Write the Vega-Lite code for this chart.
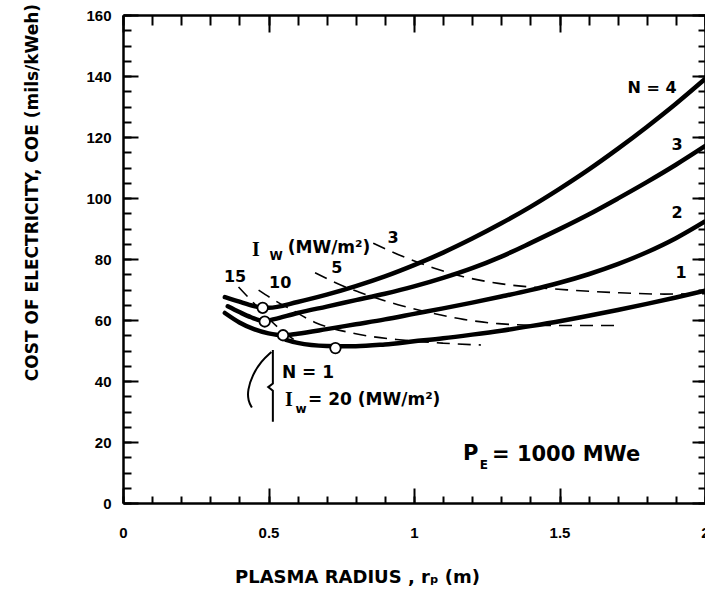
{
  "$schema": "https://vega.github.io/schema/vega-lite/v6.json",
  "autosize": {"type": "none"},
  "width": 582,
  "height": 488,
  "padding": {"left": 123, "top": 15, "right": 0, "bottom": 90},
  "background": "white",
  "config": {
    "view": {"stroke": null},
    "axis": {
      "grid": false,
      "domainColor": "black",
      "domainWidth": 2.5,
      "tickColor": "black",
      "tickWidth": 2,
      "labelColor": "black",
      "labelFont": "Liberation Sans",
      "labelFontWeight": "bold",
      "labelFontSize": 15,
      "titleColor": "black",
      "titleFont": "DejaVu Sans",
      "titleFontWeight": "bold",
      "titleFontSize": 17
    }
  },
  "datasets": {
    "curves": [
      {"N": 4, "x": 0.35, "coe": 67.5}, {"N": 4, "x": 0.40, "coe": 66.0}, {"N": 4, "x": 0.45, "coe": 64.6}, {"N": 4, "x": 0.48, "coe": 64.0},
      {"N": 4, "x": 0.5, "coe": 64.0}, {"N": 4, "x": 0.6, "coe": 65.9}, {"N": 4, "x": 0.7, "coe": 68.3}, {"N": 4, "x": 0.8, "coe": 71.1},
      {"N": 4, "x": 0.9, "coe": 74.3}, {"N": 4, "x": 1.0, "coe": 78.0}, {"N": 4, "x": 1.1, "coe": 82.1}, {"N": 4, "x": 1.2, "coe": 86.7},
      {"N": 4, "x": 1.3, "coe": 91.7}, {"N": 4, "x": 1.4, "coe": 97.1}, {"N": 4, "x": 1.5, "coe": 103.0}, {"N": 4, "x": 1.6, "coe": 109.3},
      {"N": 4, "x": 1.7, "coe": 116.1}, {"N": 4, "x": 1.8, "coe": 123.3}, {"N": 4, "x": 1.9, "coe": 130.9}, {"N": 4, "x": 2.0, "coe": 139.0},
      {"N": 3, "x": 0.36, "coe": 64.5}, {"N": 3, "x": 0.40, "coe": 62.6}, {"N": 3, "x": 0.44, "coe": 60.9}, {"N": 3, "x": 0.487, "coe": 59.6},
      {"N": 3, "x": 0.52, "coe": 60.3}, {"N": 3, "x": 0.6, "coe": 62.3}, {"N": 3, "x": 0.7, "coe": 64.4}, {"N": 3, "x": 0.8, "coe": 66.5},
      {"N": 3, "x": 0.9, "coe": 68.6}, {"N": 3, "x": 1.0, "coe": 71.0}, {"N": 3, "x": 1.1, "coe": 73.8}, {"N": 3, "x": 1.2, "coe": 77.0},
      {"N": 3, "x": 1.3, "coe": 80.8}, {"N": 3, "x": 1.4, "coe": 85.2}, {"N": 3, "x": 1.5, "coe": 89.8}, {"N": 3, "x": 1.6, "coe": 94.6},
      {"N": 3, "x": 1.7, "coe": 99.8}, {"N": 3, "x": 1.8, "coe": 105.2}, {"N": 3, "x": 1.9, "coe": 110.9}, {"N": 3, "x": 2.0, "coe": 117.0},
      {"N": 2, "x": 0.35, "coe": 62.3}, {"N": 2, "x": 0.40, "coe": 59.2}, {"N": 2, "x": 0.45, "coe": 57.0}, {"N": 2, "x": 0.5, "coe": 55.6},
      {"N": 2, "x": 0.55, "coe": 55.0}, {"N": 2, "x": 0.6, "coe": 55.5}, {"N": 2, "x": 0.7, "coe": 57.0}, {"N": 2, "x": 0.8, "coe": 58.6},
      {"N": 2, "x": 0.9, "coe": 60.2}, {"N": 2, "x": 1.0, "coe": 62.0}, {"N": 2, "x": 1.1, "coe": 63.8}, {"N": 2, "x": 1.2, "coe": 65.7},
      {"N": 2, "x": 1.3, "coe": 67.7}, {"N": 2, "x": 1.4, "coe": 69.8}, {"N": 2, "x": 1.5, "coe": 72.2}, {"N": 2, "x": 1.6, "coe": 75.0},
      {"N": 2, "x": 1.7, "coe": 78.3}, {"N": 2, "x": 1.8, "coe": 82.2}, {"N": 2, "x": 1.9, "coe": 86.8}, {"N": 2, "x": 2.0, "coe": 92.3},
      {"N": 1, "x": 0.56, "coe": 53.5}, {"N": 1, "x": 0.6, "coe": 52.5}, {"N": 1, "x": 0.7, "coe": 51.5}, {"N": 1, "x": 0.8, "coe": 51.4},
      {"N": 1, "x": 0.9, "coe": 52.0}, {"N": 1, "x": 1.0, "coe": 53.0}, {"N": 1, "x": 1.1, "coe": 54.0}, {"N": 1, "x": 1.2, "coe": 55.2},
      {"N": 1, "x": 1.3, "coe": 56.5}, {"N": 1, "x": 1.4, "coe": 58.0}, {"N": 1, "x": 1.5, "coe": 59.6}, {"N": 1, "x": 1.6, "coe": 61.4},
      {"N": 1, "x": 1.7, "coe": 63.3}, {"N": 1, "x": 1.8, "coe": 65.3}, {"N": 1, "x": 1.9, "coe": 67.4}, {"N": 1, "x": 2.0, "coe": 69.6}
    ],
    "dashed": [
      {"Iw": 3, "x": 0.86, "coe": 85.2}, {"Iw": 3, "x": 0.945, "coe": 81.5}, {"Iw": 3, "x": 1.07, "coe": 77.0}, {"Iw": 3, "x": 1.17, "coe": 74.2},
      {"Iw": 3, "x": 1.29, "coe": 72.0}, {"Iw": 3, "x": 1.4, "coe": 70.8}, {"Iw": 3, "x": 1.54, "coe": 69.8}, {"Iw": 3, "x": 1.69, "coe": 69.0},
      {"Iw": 3, "x": 1.86, "coe": 68.5}, {"Iw": 3, "x": 2.0, "coe": 68.6},
      {"Iw": 5, "x": 0.66, "coe": 75.5}, {"Iw": 5, "x": 0.76, "coe": 71.0}, {"Iw": 5, "x": 0.81, "coe": 69.2}, {"Iw": 5, "x": 0.945, "coe": 65.0},
      {"Iw": 5, "x": 1.06, "coe": 62.3}, {"Iw": 5, "x": 1.17, "coe": 60.2}, {"Iw": 5, "x": 1.29, "coe": 58.8}, {"Iw": 5, "x": 1.46, "coe": 58.2},
      {"Iw": 5, "x": 1.7, "coe": 58.2},
      {"Iw": 10, "x": 0.466, "coe": 69.8}, {"Iw": 10, "x": 0.52, "coe": 66.5}, {"Iw": 10, "x": 0.58, "coe": 63.3}, {"Iw": 10, "x": 0.66, "coe": 59.2},
      {"Iw": 10, "x": 0.8, "coe": 55.5}, {"Iw": 10, "x": 0.95, "coe": 53.5}, {"Iw": 10, "x": 1.1, "coe": 52.4}, {"Iw": 10, "x": 1.23, "coe": 51.8},
      {"Iw": 15, "x": 0.397, "coe": 70.8}, {"Iw": 15, "x": 0.45, "coe": 65.5}, {"Iw": 15, "x": 0.5, "coe": 60.5}, {"Iw": 15, "x": 0.55, "coe": 56.2},
      {"Iw": 15, "x": 0.6, "coe": 52.8}
    ],
    "circles": [
      {"x": 0.48, "coe": 64.0}, {"x": 0.487, "coe": 59.5}, {"x": 0.55, "coe": 55.0}, {"x": 0.73, "coe": 50.8}
    ],
    "labels": [
      {"x": 1.818, "coe": 136.1, "text": "N = 4"},
      {"x": 1.904, "coe": 117.4, "text": "3"},
      {"x": 1.904, "coe": 95.1, "text": "2"},
      {"x": 1.918, "coe": 75.4, "text": "1"},
      {"x": 0.385, "coe": 74.1, "text": "15"},
      {"x": 0.54, "coe": 72.1, "text": "10"},
      {"x": 0.735, "coe": 77.0, "text": "5"},
      {"x": 0.928, "coe": 86.9, "text": "3"}
    ],
    "leftlabels": [
      {"x": 0.566, "coe": 83.6, "text": "(MW/m²)"},
      {"x": 0.546, "coe": 42.6, "text": "N = 1"},
      {"x": 0.636, "coe": 33.8, "text": "= 20 (MW/m²)"}
    ],
    "bigI": [
      {"x": 0.457, "coe": 83.0, "text": "I"},
      {"x": 0.57, "coe": 33.8, "text": "I"}
    ],
    "subs": [
      {"x": 0.526, "coe": 81.0, "text": "W"},
      {"x": 0.612, "coe": 30.8, "text": "w"}
    ],
    "pe": [
      {"x": 1.168, "coe": 16.2, "text": "P"},
      {"x": 1.268, "coe": 15.7, "text": "= 1000 MWe"}
    ],
    "pesub": [
      {"x": 1.24, "coe": 12.6, "text": "E"}
    ],
    "brace": [
      {"o": 1, "x": 0.515, "coe": 50.2}, {"o": 2, "x": 0.515, "coe": 39.2}, {"o": 3, "x": 0.499, "coe": 38.0},
      {"o": 4, "x": 0.515, "coe": 36.8}, {"o": 5, "x": 0.515, "coe": 26.6}
    ],
    "arc": [
      {"o": 1, "x": 0.51, "coe": 49.5}, {"o": 2, "x": 0.475, "coe": 46.5}, {"o": 3, "x": 0.445, "coe": 42.0},
      {"o": 4, "x": 0.428, "coe": 37.0}, {"o": 5, "x": 0.43, "coe": 33.5}, {"o": 6, "x": 0.443, "coe": 31.3}
    ]
  },
  "resolve": {"axis": {"x": "independent", "y": "independent"}},
  "layer": [
    {
      "data": {"name": "circles"},
      "mark": {"type": "point", "opacity": 0},
      "encoding": {
        "x": {"field": "x", "type": "quantitative", "scale": {"domain": [0, 2], "nice": false, "zero": false},
          "axis": {"orient": "bottom", "values": [0, 0.5, 1, 1.5, 2], "format": "~g", "tickSize": -15, "labelPadding": 37,
            "labelFlush": false, "labelOverlap": false, "labelBound": false,
            "title": "PLASMA RADIUS , rₚ (m)", "titleFontSize": 18, "titleX": 234, "titleY": 74, "titleAlign": "center", "titleBaseline": "middle"}},
        "y": {"field": "coe", "type": "quantitative", "scale": {"domain": [0, 160], "nice": false},
          "axis": {"orient": "left", "values": [0, 20, 40, 60, 80, 100, 120, 140, 160], "tickSize": -15, "labelPadding": 27,
            "labelFlush": false, "labelOverlap": false, "labelBound": false,
            "title": "COST OF ELECTRICITY, COE (mils/kWeh)", "titleX": -91, "titleY": 177, "titleAngle": 270,
            "titleAlign": "center", "titleBaseline": "middle"}}
      }
    },
    {
      "data": {"name": "circles"},
      "mark": {"type": "point", "opacity": 0},
      "encoding": {
        "x": {"field": "x", "type": "quantitative", "scale": {"domain": [0, 2], "nice": false, "zero": false},
          "axis": {"orient": "bottom", "values": [0, 0.1, 0.2, 0.3, 0.4, 0.5, 0.6, 0.7, 0.8, 0.9, 1, 1.1, 1.2, 1.3, 1.4, 1.5, 1.6, 1.7, 1.8, 1.9, 2],
            "tickSize": -7, "labels": false, "domain": false, "title": null}},
        "y": {"field": "coe", "type": "quantitative", "scale": {"domain": [0, 160], "nice": false},
          "axis": {"orient": "left", "values": [0, 5, 10, 15, 20, 25, 30, 35, 40, 45, 50, 55, 60, 65, 70, 75, 80, 85, 90, 95, 100, 105, 110, 115, 120, 125, 130, 135, 140, 145, 150, 155, 160],
            "tickSize": -8, "labels": false, "domain": false, "title": null}}
      }
    },
    {
      "data": {"name": "circles"},
      "mark": {"type": "point", "opacity": 0},
      "encoding": {
        "x": {"field": "x", "type": "quantitative", "scale": {"domain": [0, 2], "nice": false, "zero": false},
          "axis": {"orient": "top", "values": [0, 0.5, 1, 1.5, 2], "tickSize": -17, "labels": false, "title": null}},
        "y": {"field": "coe", "type": "quantitative", "scale": {"domain": [0, 160], "nice": false},
          "axis": {"orient": "right", "values": [0, 20, 40, 60, 80, 100, 120, 140, 160], "tickSize": -13, "labels": false, "title": null}}
      }
    },
    {
      "data": {"name": "circles"},
      "mark": {"type": "point", "opacity": 0},
      "encoding": {
        "x": {"field": "x", "type": "quantitative", "scale": {"domain": [0, 2], "nice": false, "zero": false},
          "axis": {"orient": "top", "values": [0, 0.1, 0.2, 0.3, 0.4, 0.5, 0.6, 0.7, 0.8, 0.9, 1, 1.1, 1.2, 1.3, 1.4, 1.5, 1.6, 1.7, 1.8, 1.9, 2],
            "tickSize": -10, "labels": false, "domain": false, "title": null}},
        "y": {"field": "coe", "type": "quantitative", "scale": {"domain": [0, 160], "nice": false},
          "axis": {"orient": "right", "values": [0, 5, 10, 15, 20, 25, 30, 35, 40, 45, 50, 55, 60, 65, 70, 75, 80, 85, 90, 95, 100, 105, 110, 115, 120, 125, 130, 135, 140, 145, 150, 155, 160],
            "tickSize": -7, "labels": false, "domain": false, "title": null}}
      }
    },
    {
      "data": {"name": "dashed"},
      "mark": {"type": "line", "color": "black", "strokeWidth": 1.6, "strokeDash": [13, 8], "interpolate": "monotone"},
      "encoding": {
        "x": {"field": "x", "type": "quantitative", "axis": null},
        "y": {"field": "coe", "type": "quantitative", "axis": null},
        "detail": {"field": "Iw", "type": "nominal"}
      }
    },
    {
      "data": {"name": "curves"},
      "mark": {"type": "line", "color": "black", "strokeWidth": 4.5, "interpolate": "monotone", "strokeCap": "round"},
      "encoding": {
        "x": {"field": "x", "type": "quantitative", "axis": null},
        "y": {"field": "coe", "type": "quantitative", "axis": null},
        "detail": {"field": "N", "type": "nominal"}
      }
    },
    {
      "data": {"name": "brace"},
      "mark": {"type": "line", "color": "black", "strokeWidth": 2},
      "encoding": {
        "x": {"field": "x", "type": "quantitative", "axis": null},
        "y": {"field": "coe", "type": "quantitative", "axis": null},
        "order": {"field": "o", "type": "quantitative"}
      }
    },
    {
      "data": {"name": "arc"},
      "mark": {"type": "line", "color": "black", "strokeWidth": 2, "interpolate": "basis"},
      "encoding": {
        "x": {"field": "x", "type": "quantitative", "axis": null},
        "y": {"field": "coe", "type": "quantitative", "axis": null},
        "order": {"field": "o", "type": "quantitative"}
      }
    },
    {
      "data": {"name": "circles"},
      "mark": {"type": "point", "shape": "circle", "filled": true, "fill": "white", "stroke": "black", "strokeWidth": 1.8, "size": 110, "opacity": 1},
      "encoding": {
        "x": {"field": "x", "type": "quantitative", "axis": null},
        "y": {"field": "coe", "type": "quantitative", "axis": null}
      }
    },
    {
      "data": {"name": "labels"},
      "mark": {"type": "text", "font": "DejaVu Sans", "fontWeight": "bold", "fontSize": 16, "color": "black", "align": "center", "baseline": "middle"},
      "encoding": {
        "x": {"field": "x", "type": "quantitative", "axis": null},
        "y": {"field": "coe", "type": "quantitative", "axis": null},
        "text": {"field": "text"}
      }
    },
    {
      "data": {"name": "leftlabels"},
      "mark": {"type": "text", "font": "DejaVu Sans", "fontWeight": "bold", "fontSize": 17, "color": "black", "align": "left", "baseline": "middle"},
      "encoding": {
        "x": {"field": "x", "type": "quantitative", "axis": null},
        "y": {"field": "coe", "type": "quantitative", "axis": null},
        "text": {"field": "text"}
      }
    },
    {
      "data": {"name": "bigI"},
      "mark": {"type": "text", "font": "Liberation Serif", "fontWeight": "bold", "fontSize": 20, "color": "black", "align": "center", "baseline": "middle"},
      "encoding": {
        "x": {"field": "x", "type": "quantitative", "axis": null},
        "y": {"field": "coe", "type": "quantitative", "axis": null},
        "text": {"field": "text"}
      }
    },
    {
      "data": {"name": "subs"},
      "mark": {"type": "text", "font": "DejaVu Sans", "fontWeight": "bold", "fontSize": 12, "color": "black", "align": "center", "baseline": "middle"},
      "encoding": {
        "x": {"field": "x", "type": "quantitative", "axis": null},
        "y": {"field": "coe", "type": "quantitative", "axis": null},
        "text": {"field": "text"}
      }
    },
    {
      "data": {"name": "pe"},
      "mark": {"type": "text", "font": "DejaVu Sans", "fontWeight": "bold", "fontSize": 21, "color": "black", "align": "left", "baseline": "middle"},
      "encoding": {
        "x": {"field": "x", "type": "quantitative", "axis": null},
        "y": {"field": "coe", "type": "quantitative", "axis": null},
        "text": {"field": "text"}
      }
    },
    {
      "data": {"name": "pesub"},
      "mark": {"type": "text", "font": "DejaVu Sans", "fontWeight": "bold", "fontSize": 12, "color": "black", "align": "center", "baseline": "middle"},
      "encoding": {
        "x": {"field": "x", "type": "quantitative", "axis": null},
        "y": {"field": "coe", "type": "quantitative", "axis": null},
        "text": {"field": "text"}
      }
    }
  ]
}
